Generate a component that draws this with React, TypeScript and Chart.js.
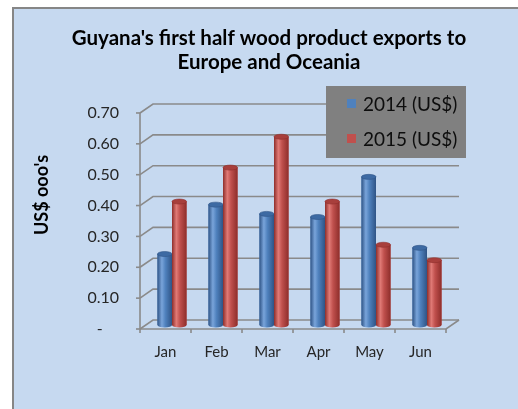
import React, { useEffect, useRef } from "react";
import { Chart, registerables } from "chart.js";

Chart.register(...registerables);

const months = ["Jan", "Feb", "Mar", "Apr", "May", "Jun"];
const exports2014 = [0.23, 0.39, 0.36, 0.35, 0.48, 0.25];
const exports2015 = [0.40, 0.51, 0.61, 0.40, 0.26, 0.21];
const seriesLabels = ["2014 (US$)", "2015 (US$)"];
const yTickLabels = ["-", "0.10", "0.20", "0.30", "0.40", "0.50", "0.60", "0.70"];
const titleLines = ["Guyana's first half wood product exports to", "Europe and Oceania"];
const yAxisTitle = "US$ ooo's";

const FONT = "Lato, 'Noto Sans', sans-serif";
const CAT_PCT = 0.57;
const DEPTH_X = 13;
const DEPTH_Y = -9;
const BAR_DX = 6.5;
const BAR_DY = -4;

const palettes = [
  { base: "#4f81bd", dark: "#2f5486", light: "#79a4da", cap: "#3d6aa3", key: "#4f81bd" },
  { base: "#c0504d", dark: "#8e2e2b", light: "#e07a76", cap: "#a83f3c", key: "#c0504d" },
];

const depthPlugin = {
  id: "depth3d",
  beforeDatasetsDraw(chart: any) {
    const { ctx, chartArea } = chart;
    const ys = chart.scales.y;
    const L = chartArea.left;
    const R = chartArea.right;
    const B = chartArea.bottom;
    ctx.save();
    ctx.strokeStyle = "#8a8a8a";
    ctx.lineWidth = 1.6;
    ys.ticks.forEach((t: any) => {
      const y = ys.getPixelForValue(t.value);
      ctx.beginPath();
      ctx.moveTo(L, y);
      ctx.lineTo(L + DEPTH_X, y + DEPTH_Y);
      ctx.lineTo(R + DEPTH_X, y + DEPTH_Y);
      ctx.stroke();
      ctx.beginPath();
      ctx.moveTo(L - 4, y);
      ctx.lineTo(L, y);
      ctx.stroke();
    });
    ctx.beginPath();
    ctx.moveTo(L, ys.getPixelForValue(ys.max));
    ctx.lineTo(L, B);
    ctx.stroke();
    ctx.beginPath();
    ctx.moveTo(L, B);
    ctx.lineTo(R, B);
    ctx.lineTo(R + DEPTH_X, B + DEPTH_Y);
    ctx.stroke();
    for (let i = 0; i <= months.length; i++) {
      const x = L + ((R - L) * i) / months.length;
      ctx.beginPath();
      ctx.moveTo(x, B);
      ctx.lineTo(x, B + 4);
      ctx.stroke();
    }
    ctx.restore();
    ctx.save();
    ctx.translate(BAR_DX, BAR_DY);
  },
  afterDatasetsDraw(chart: any) {
    const { ctx } = chart;
    chart.data.datasets.forEach((ds: any, di: number) => {
      const meta = chart.getDatasetMeta(di);
      const p = palettes[di];
      meta.data.forEach((el: any) => {
        const { x, y, width, base } = el.getProps(["x", "y", "width", "base"], true);
        if (![x, y, width, base].every((n) => Number.isFinite(n))) return;
        const rx = width / 2;
        const g = ctx.createLinearGradient(x - rx, 0, x + rx, 0);
        g.addColorStop(0, p.dark);
        g.addColorStop(0.3, p.light);
        g.addColorStop(0.55, p.base);
        g.addColorStop(1, p.dark);
        ctx.fillStyle = g;
        ctx.fillRect(x - rx, y, width, base - y);
        ctx.beginPath();
        ctx.ellipse(x, base, rx, 2.5, 0, 0, Math.PI);
        ctx.fill();
        ctx.beginPath();
        ctx.ellipse(x, y, rx, 2.5, 0, 0, Math.PI * 2);
        ctx.fillStyle = p.cap;
        ctx.fill();
        ctx.strokeStyle = p.dark;
        ctx.lineWidth = 0.6;
        ctx.stroke();
      });
    });
    ctx.restore();
  },
  afterDraw(chart: any) {
    const { ctx, chartArea } = chart;
    ctx.save();
    ctx.translate(42, (chartArea.top + chartArea.bottom) / 2 - 26);
    ctx.rotate(-Math.PI / 2);
    ctx.font = `bold 18px ${FONT}`;
    ctx.fillStyle = "#000000";
    ctx.textAlign = "center";
    ctx.textBaseline = "middle";
    ctx.fillText(yAxisTitle, 0, 0);
    ctx.restore();
    ctx.save();
    const bx = 326, by = 86, bw = 140, bh = 72;
    ctx.fillStyle = "#808080";
    ctx.fillRect(bx, by, bw, bh);
    ctx.font = `19px ${FONT}`;
    ctx.textBaseline = "middle";
    chart.data.datasets.forEach((ds: any, i: number) => {
      const cy = by + 18 + i * 35;
      ctx.fillStyle = palettes[i].key;
      ctx.fillRect(bx + 21, cy - 5, 9, 9);
      ctx.fillStyle = "#0d0d0d";
      ctx.fillText(ds.label, bx + 37, cy + 1);
    });
    ctx.restore();
  },
};

export default function App() {
  const canvasRef = useRef<HTMLCanvasElement | null>(null);

  useEffect(() => {
    if (!canvasRef.current) return;
    const chart = new Chart(canvasRef.current, {
      type: "bar",
      data: {
        labels: months,
        datasets: [
          {
            label: seriesLabels[0],
            data: exports2014,
            backgroundColor: palettes[0].base,
            borderWidth: 0,
            categoryPercentage: CAT_PCT,
            barPercentage: 1,
          },
          {
            label: seriesLabels[1],
            data: exports2015,
            backgroundColor: palettes[1].base,
            borderWidth: 0,
            categoryPercentage: CAT_PCT,
            barPercentage: 1,
          },
        ],
      },
      options: {
        animation: false,
        responsive: true,
        maintainAspectRatio: false,
        devicePixelRatio: 1,
        layout: { padding: { left: 20, top: 0, right: 0, bottom: 0 } },
        plugins: {
          legend: { display: false },
          tooltip: { enabled: false },
          title: {
            display: true,
            text: titleLines,
            color: "#000000",
            font: { family: FONT, size: 20.5, weight: "bold", lineHeight: 1.17 },
            padding: { top: 26, bottom: 39 },
          },
        },
        scales: {
          x: {
            grid: { display: false, drawTicks: false },
            border: { display: false },
            ticks: { color: "#262626", font: { family: FONT, size: 15 }, padding: 14 },
            afterFit: (s: any) => {
              s.height = 80;
            },
          },
          y: {
            min: 0,
            max: 0.7,
            grid: { display: false, drawTicks: false },
            border: { display: false },
            ticks: {
              stepSize: 0.1,
              color: "#262626",
              font: { family: FONT, size: 16 },
              padding: 21,
              callback: (_v: any, i: number) => (i === 0 ? yTickLabels[0] + "    " : yTickLabels[i]),
            },
            afterFit: (s: any) => {
              s.width = 120;
            },
          },
          spacer: {
            type: "linear",
            position: "right",
            display: true,
            grid: { display: false, drawTicks: false },
            border: { display: false },
            ticks: { display: false },
            afterFit: (s: any) => {
              s.width = 72;
            },
          },
        },
      },
      plugins: [depthPlugin],
    });
    return () => chart.destroy();
  }, []);

  return (
    <div style={{ position: "absolute", left: 0, top: 0, width: 518, height: 409, background: "#ffffff", overflow: "hidden" }}>
      <div
        style={{
          position: "absolute",
          left: 12,
          top: 7,
          width: 530,
          height: 430,
          border: "2px solid #868686",
          background: "#c6d9f0",
        }}
      />
      <div style={{ position: "absolute", left: 0, top: 0, width: 518, height: 409 }}>
        <canvas ref={canvasRef} />
      </div>
    </div>
  );
}
